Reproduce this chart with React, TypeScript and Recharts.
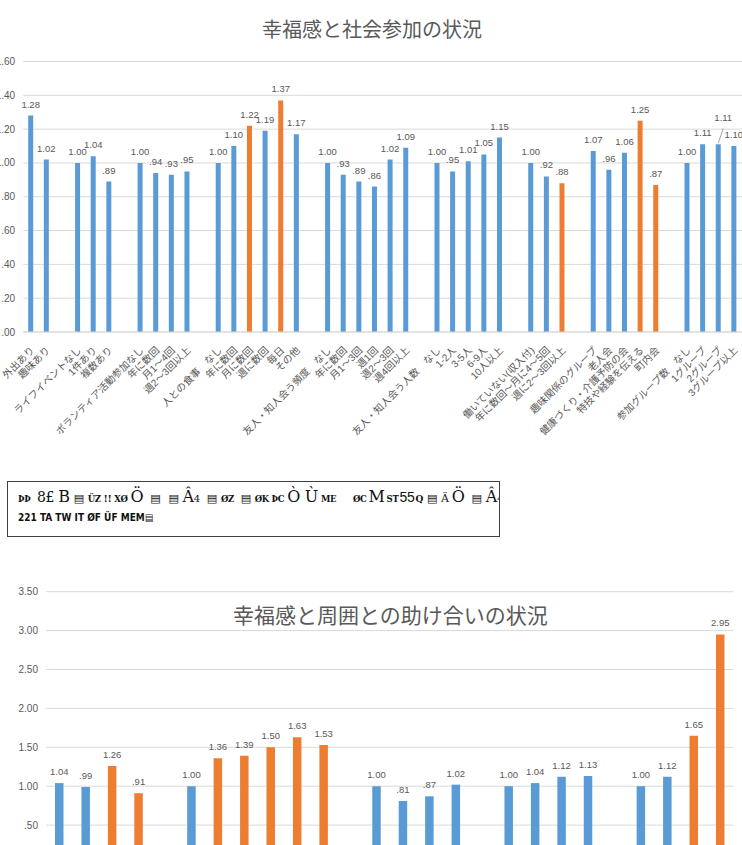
import { Bar, BarChart, CartesianGrid, Cell, LabelList, XAxis, YAxis } from 'recharts';

// 幸福感と社会参加の状況 ('' = spacer between groups)
const socialCategories = [
  '外出あり', '趣味あり', '',
  'ライフイベントなし', '1件あり', '複数あり', '',
  'ボランティア活動参加なし', '年に数回', '月1～4回', '週2～3回以上', '',
  '人との食事　なし', '年に数回', '月に数回', '週に数回', '毎日', 'その他', '',
  '友人・知人会う頻度　なし', '年に数回', '月1～3回', '週1回', '週2～3回', '週4回以上', '',
  '友人・知人会う人数　なし', '1-2人', '3-5人', '6-9人', '10人以上', '',
  '働いていない(収入付)', '年に数回～月に4～5回', '週に2～3回以上', '',
  '趣味関係のグループ', '老人会', '健康づくり・介護予防の会', '特技や経験を伝える', '町内会', '',
  '参加グループ数　なし', '1グループ', '2グループ', '3グループ以上',
];
const socialValues = [
  1.28, 1.02, null,
  1.0, 1.04, 0.89, null,
  1.0, 0.94, 0.93, 0.95, null,
  1.0, 1.1, 1.22, 1.19, 1.37, 1.17, null,
  1.0, 0.93, 0.89, 0.86, 1.02, 1.09, null,
  1.0, 0.95, 1.01, 1.05, 1.15, null,
  1.0, 0.92, 0.88, null,
  1.07, 0.96, 1.06, 1.25, 0.87, null,
  1.0, 1.11, 1.11, 1.1,
];
// 1 = significant (orange)
const socialSignificant = [
  0, 0, 0,
  0, 0, 0, 0,
  0, 0, 0, 0, 0,
  0, 0, 1, 0, 1, 0, 0,
  0, 0, 0, 0, 0, 0, 0,
  0, 0, 0, 0, 0, 0,
  0, 0, 1, 0,
  0, 0, 0, 1, 1, 0,
  0, 0, 0, 0,
];
const socialTicks = [0, 0.2, 0.4, 0.6, 0.8, 1.0, 1.2, 1.4, 1.6];

// 幸福感と周囲との助け合いの状況 (axis labels are outside the picture)
const helpCategories = [
  'a1', 'a2', 'a3', 'a4', '',
  'b1', 'b2', 'b3', 'b4', 'b5', 'b6', '',
  'c1', 'c2', 'c3', 'c4', '',
  'd1', 'd2', 'd3', 'd4', '',
  'e1', 'e2', 'e3', 'e4',
];
const helpValues = [
  1.04, 0.99, 1.26, 0.91, null,
  1.0, 1.36, 1.39, 1.5, 1.63, 1.53, null,
  1.0, 0.81, 0.87, 1.02, null,
  1.0, 1.04, 1.12, 1.13, null,
  1.0, 1.12, 1.65, 2.95,
];
const helpSignificant = [
  0, 0, 1, 1, 0,
  0, 1, 1, 1, 1, 1, 0,
  0, 0, 0, 0, 0,
  0, 0, 0, 0, 0,
  0, 0, 1, 1,
];
const helpTicks = [0, 0.5, 1.0, 1.5, 2.0, 2.5, 3.0, 3.5];

const BLUE = '#5B9BD5';
const ORANGE = '#ED7D31';
const GRID = '#D9D9D9';
const TEXT = '#595959';
const FONT = "'Liberation Sans', 'Noto Sans CJK JP', sans-serif";

// the "2グループ" label is pushed up with a leader line in the original
const LIFTED_SOCIAL_LABEL = 44;

const socialData = socialCategories.map((name, i) => ({
  idx: i,
  name,
  value: socialValues[i],
  sig: socialSignificant[i],
}));
const helpData = helpCategories.map((name, i) => ({
  idx: i,
  name,
  value: helpValues[i],
  sig: helpSignificant[i],
}));

const fmt = (v: number) => {
  const s = v.toFixed(2);
  return s.startsWith('0') ? s.slice(1) : s;
};

function makeLabel(liftedIndex: number | null) {
  return (props: any) => {
    const { x, y, width, value: entry } = props;
    if (!entry || entry.value == null) return null;
    const cx = Number(x) + Number(width) / 2;
    const top = Number(y);
    if (entry.idx === liftedIndex) {
      return (
        <g>
          <line x1={cx} y1={top - 1} x2={cx + 5} y2={top - 16} stroke="#A6A6A6" strokeWidth={1} />
          <text x={cx + 5} y={top - 23} textAnchor="middle" fontSize={9.5} fill={TEXT} fontFamily={FONT}>
            {fmt(entry.value)}
          </text>
        </g>
      );
    }
    return (
      <text x={cx} y={top - 8} textAnchor="middle" fontSize={9.5} fill={TEXT} fontFamily={FONT}>
        {fmt(entry.value)}
      </text>
    );
  };
}

function AngledTick({ x, y, payload }: any) {
  if (!payload.value) return null;
  const ax = x + 4;
  const ay = y + 11;
  return (
    <text
      x={ax}
      y={ay}
      textAnchor="end"
      fontSize={10}
      fill={TEXT}
      fontFamily={FONT}
      transform={`rotate(-45, ${ax}, ${ay})`}
    >
      {payload.value}
    </text>
  );
}

const Box = ({ children }: { children: string }) => (
  <span style={{ fontSize: 11, margin: '0 4px' }}>{children}</span>
);

export default function App() {
  return (
    <div
      style={{
        position: 'absolute',
        left: 0,
        top: 0,
        width: 742,
        height: 845,
        overflow: 'hidden',
        background: '#fff',
        fontFamily: FONT,
      }}
    >
      <div
        style={{
          position: 'absolute',
          left: 0,
          top: 16,
          width: 744,
          textAlign: 'center',
          fontSize: 20,
          lineHeight: '28px',
          color: TEXT,
        }}
      >
        幸福感と社会参加の状況
      </div>

      <div style={{ position: 'absolute', left: -20, top: 0 }}>
        <BarChart
          width={762}
          height={452}
          data={socialData}
          margin={{ top: 61.5, right: 0, bottom: 0, left: 0 }}
          barCategoryGap={0}
        >
          <CartesianGrid vertical={false} stroke={GRID} />
          <XAxis
            dataKey="name"
            interval={0}
            height={120}
            tick={<AngledTick />}
            tickLine={false}
            axisLine={{ stroke: GRID }}
          />
          <YAxis
            domain={[0, 1.6]}
            ticks={socialTicks}
            tickFormatter={fmt}
            width={43.2}
            tickSize={0}
            tickMargin={8}
            axisLine={false}
            tickLine={false}
            tick={{ fontSize: 10, fill: TEXT, fontFamily: FONT }}
          />
          <Bar dataKey="value" barSize={5} isAnimationActive={false}>
            {socialData.map((d, i) => (
              <Cell key={i} fill={d.sig ? ORANGE : BLUE} />
            ))}
            <LabelList dataKey={(d: any) => d} content={makeLabel(LIFTED_SOCIAL_LABEL)} />
          </Bar>
        </BarChart>
      </div>

      <div
        style={{
          position: 'absolute',
          left: 7,
          top: 481,
          width: 493,
          height: 56,
          border: '1px solid #404040',
          color: '#111',
          fontFamily: "'DejaVu Serif', serif",
          fontWeight: 'bold',
          padding: '4px 0 0 10px',
          boxSizing: 'border-box',
          whiteSpace: 'nowrap',
          overflow: 'hidden',
        }}
      >
        <div style={{ height: 22, fontSize: 8.5, lineHeight: '22px', letterSpacing: -0.3 }}>
          ÞÞ <span style={{ fontSize: 14, fontWeight: 'normal', margin: '0 4px' }}>8£</span>
          <span style={{ fontSize: 16, fontWeight: 'normal' }}>B</span>
          <Box>▤</Box>ÜZ <span style={{ fontSize: 10 }}>!!</span> XØ
          <span style={{ fontSize: 16, fontWeight: 'normal', margin: '0 3px' }}>Ö</span>
          <Box>▤</Box>
          <Box>▤</Box>
          <span style={{ fontSize: 16, fontWeight: 'normal' }}>Â</span>
          <span style={{ fontSize: 10, fontWeight: 'normal', marginRight: 3 }}>4</span>
          <Box>▤</Box>ØZ <Box>▤</Box>ØK ÞC
          <span style={{ fontSize: 16, fontWeight: 'normal', margin: '0 3px' }}>Ò Ù</span>
          ME <span style={{ marginLeft: 14 }}>ØC</span>
          <span style={{ fontSize: 16, fontWeight: 'normal', margin: '0 2px' }}>M</span>ST
          <span style={{ fontSize: 14, fontWeight: 'normal', fontFamily: FONT, margin: '0 1px' }}>55</span>
          <span style={{ fontSize: 9 }}>Q</span>
          <Box>▤</Box>
          <span style={{ fontSize: 11, fontWeight: 'normal' }}>Ä</span>
          <span style={{ fontSize: 16, fontWeight: 'normal', margin: '0 3px' }}>Ö</span>
          <Box>▤</Box>
          <span style={{ fontSize: 16, fontWeight: 'normal' }}>Â</span>
          <span style={{ fontSize: 10, fontWeight: 'normal', marginRight: 3 }}>4</span>
          <Box>▤</Box>ØZ <Box>▤</Box>
        </div>
        <div style={{ fontSize: 10, lineHeight: '20px', fontFamily: "'DejaVu Sans Condensed', sans-serif" }}>
          221 TA TW IT ØF ÜF MEM▤
        </div>
      </div>

      <div
        style={{
          position: 'absolute',
          left: 233,
          top: 601,
          whiteSpace: 'nowrap',
          fontSize: 21,
          lineHeight: '30px',
          color: TEXT,
        }}
      >
        幸福感と周囲との助け合いの状況
      </div>

      <div style={{ position: 'absolute', left: 0, top: 560 }}>
        <BarChart
          width={742}
          height={304}
          data={helpData}
          margin={{ top: 31.7, right: 8.6, bottom: 0, left: 0 }}
          barCategoryGap={0}
        >
          <CartesianGrid vertical={false} stroke={GRID} />
          <XAxis dataKey="name" hide interval={0} />
          <YAxis
            domain={[0, 3.5]}
            ticks={helpTicks}
            tickFormatter={fmt}
            width={46}
            tickSize={0}
            tickMargin={8}
            axisLine={false}
            tickLine={false}
            tick={{ fontSize: 10, fill: TEXT, fontFamily: FONT }}
          />
          <Bar dataKey="value" barSize={8.5} isAnimationActive={false}>
            {helpData.map((d, i) => (
              <Cell key={i} fill={d.sig ? ORANGE : BLUE} />
            ))}
            <LabelList dataKey={(d: any) => d} content={makeLabel(null)} />
          </Bar>
        </BarChart>
      </div>
    </div>
  );
}
